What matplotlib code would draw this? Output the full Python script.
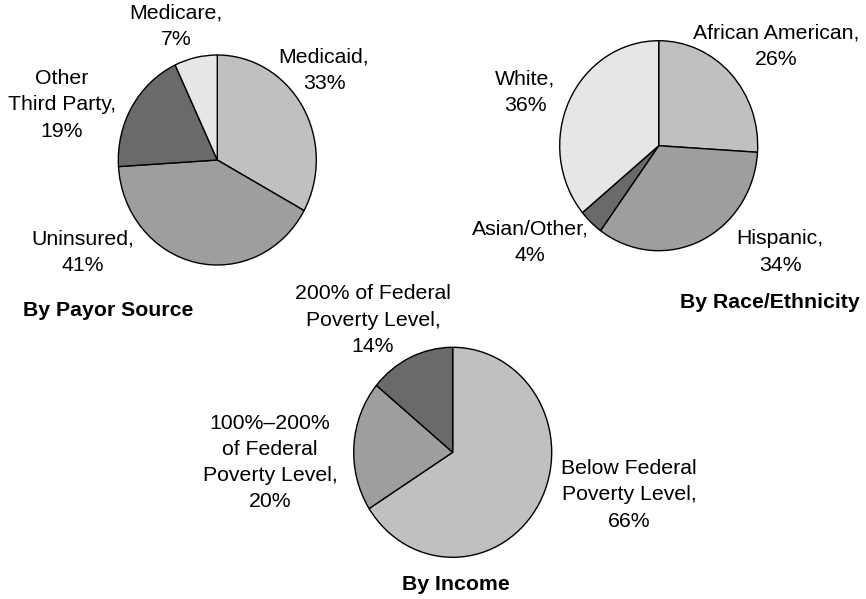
import matplotlib
matplotlib.use("Agg")
import matplotlib.pyplot as plt

# ---- data ----
payor_labels = ["Medicaid,\n33%", "Uninsured,\n41%", "Other\nThird Party,\n19%", "Medicare,\n7%"]
payor_values = [33, 41, 19, 7]

race_labels = ["African American,\n26%", "Hispanic,\n34%", "Asian/Other,\n4%", "White,\n36%"]
race_values = [26, 34, 4, 36]

income_labels = ["Below Federal\nPoverty Level,\n66%", "100%\u2013200%\nof Federal\nPoverty Level,\n20%",
                 "200% of Federal\nPoverty Level,\n14%"]
income_values = [66, 20, 14]

titles = ["By Payor Source", "By Race/Ethnicity", "By Income"]

# ---- styles / layout ----
LIGHT, MED, DARK, VLIGHT = "#c0c0c0", "#9e9e9e", "#6a6a6a", "#e6e6e6"
payor_colors = [LIGHT, MED, DARK, VLIGHT]
race_colors = [LIGHT, MED, DARK, VLIGHT]
income_colors = [LIGHT, MED, DARK]

W, H = 866, 599
S = 105.0 / 99.0  # vertical stretch of the pies in the reference
R = 99.0

plt.rcParams['font.family'] = ['Liberation Sans', 'DejaVu Sans']
fig = plt.figure(figsize=(W / 100, H / 100), dpi=100)
ax = fig.add_axes([0, 0, 1, 1])


def py(ypix):
    return (H - ypix) / S


def draw_pie(values, colors, cx, cy):
    ax.pie(values, colors=colors, startangle=90, counterclock=False,
           center=(cx, py(cy)), radius=R, frame=True,
           wedgeprops=dict(edgecolor="black", linewidth=1.0))


draw_pie(payor_values, payor_colors, 217.3, 160)
draw_pie(race_values, race_colors, 658.7, 145.7)
draw_pie(income_values, income_colors, 452.7, 452.3)

ax.set_aspect('auto')
ax.set_xlim(0, W)
ax.set_ylim(0, H / S)
ax.axis('off')

FS = 15.3
LS = 1.47

label_pos = {
    payor_labels[0]: (324, 70), payor_labels[1]: (83, 252.5),
    payor_labels[2]: (62, 105), payor_labels[3]: (176, 26.5),
    race_labels[0]: (776, 46), race_labels[1]: (780, 252),
    race_labels[2]: (530, 242), race_labels[3]: (525, 92),
    income_labels[0]: (629, 495), income_labels[1]: (270, 462.5),
    income_labels[2]: (373, 320),
}
for lab, (x, y) in label_pos.items():
    ax.text(x, py(y), lab, ha='center', va='center', fontsize=FS,
            linespacing=LS, color='black')

title_pos = [(108, 310), (770, 303), (456, 585)]
for t, (x, y) in zip(titles, title_pos):
    ax.text(x, py(y), t, ha='center', va='center', fontsize=FS,
            fontweight='bold', color='black')

fig.savefig("out.png", dpi=100)
